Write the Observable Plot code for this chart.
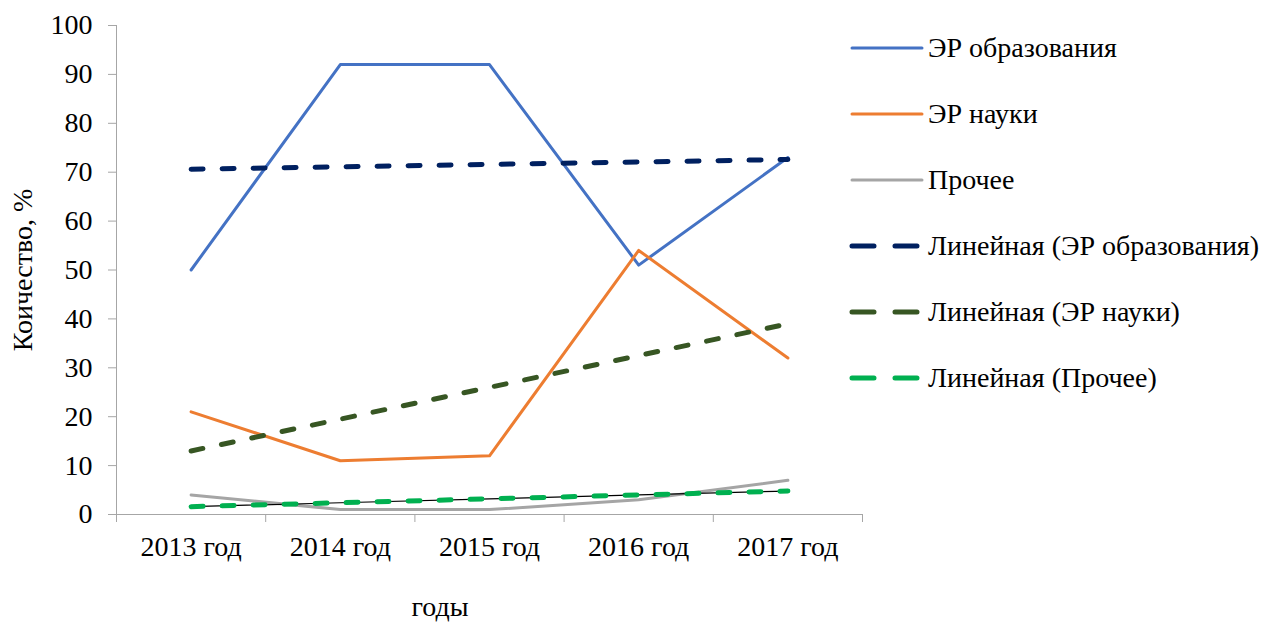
<!DOCTYPE html>
<html>
<head>
<meta charset="utf-8">
<script src="https://cdn.jsdelivr.net/npm/d3@7"></script>
<script src="https://cdn.jsdelivr.net/npm/@observablehq/plot@0.6"></script>
<style>
  #wrap, #wrap * { font-family: 'Liberation Serif', 'Times New Roman', Tinos !important; }
</style>
</head>
<body style="margin:0;padding:0;background:#fff">
<div id="wrap" style="position:relative;width:1270px;height:622px"></div>
<script>
const years = ["2013 год", "2014 год", "2015 год", "2016 год", "2017 год"];
const edu = [50, 92, 92, 51, 73];
const sci = [21, 11, 12, 54, 32];
const other = [4, 1, 1, 3, 7];
const yTicks = [0, 10, 20, 30, 40, 50, 60, 70, 80, 90, 100];

const seriesNames = ["ЭР образования", "ЭР науки", "Прочее"];
const lineColors = ["#4472C4", "#ED7D31", "#A5A5A5"];
const trendColors = ["#002060", "#375623", "#00B050"];

function fit(vals) {
  const xs = vals.map((_, i) => i);
  const mx = d3.mean(xs), my = d3.mean(vals);
  const b = d3.sum(xs, (x, i) => (x - mx) * (vals[i] - my)) / d3.sum(xs, x => (x - mx) ** 2);
  const a = my - b * mx;
  return xs.map(x => a + b * x);
}

const all = [edu, sci, other];
const rows = [];
const trends = [];
all.forEach((vals, s) => {
  const t = fit(vals);
  vals.forEach((v, i) => {
    rows.push({series: seriesNames[s], x: i + 0.5, y: v});
    trends.push({series: seriesNames[s], x: i + 0.5, y: t[i]});
  });
});

const FONT = "'Liberation Serif', 'Times New Roman', Tinos";
const plot = Plot.plot({
  width: 1270,
  height: 622,
  marginLeft: 116,
  marginRight: 408,
  marginTop: 25,
  marginBottom: 108,
  style: {fontFamily: FONT, fontSize: "28px", color: "#000", background: "#fff"},
  x: {type: "linear", domain: [0, years.length]},
  y: {domain: [0, 100]},
  marks: [
    Plot.ruleX([0], {y1: 0, y2: 100, stroke: "#a6a6a6"}),
    Plot.ruleY([0], {stroke: "#a6a6a6"}),
    Plot.axisY({ticks: yTicks, tickSize: 8, stroke: "#a6a6a6", fill: "#000", tickPadding: 16,
      label: "Коичество, %", labelAnchor: "center", labelArrow: "none", labelOffset: 104, fontSize: 28, fontFamily: FONT}),
    Plot.axisX({ticks: d3.range(0, years.length + 1), tickSize: 8, stroke: "#a6a6a6", tickFormat: () => "", label: null}),
    Plot.axisX({ticks: years.map((_, i) => i + 0.5), tickSize: 0, tickPadding: 22, fill: "#000",
      tickFormat: d => years[Math.round(d - 0.5)], label: null, fontSize: 28, fontFamily: FONT}),
    Plot.line(rows, {x: "x", y: "y", z: "series", stroke: d => lineColors[seriesNames.indexOf(d.series)], strokeWidth: 3}),
    Plot.line(trends.filter(d => d.series === "Прочее"), {x: "x", y: "y", stroke: "#000", strokeWidth: 1.2}),
    Plot.line(trends, {x: "x", y: "y", z: "series", stroke: d => trendColors[seriesNames.indexOf(d.series)],
      strokeWidth: 5, strokeDasharray: "12,19", strokeLinecap: "round"})
  ]
});
const wrap = document.getElementById("wrap");
wrap.appendChild(plot);

const legend = document.createElement("div");
legend.style.cssText = "position:absolute;left:848px;top:15px";
const items = [
  ...seriesNames.map((n, i) => ({label: n, color: lineColors[i], dash: null, w: 3})),
  ...seriesNames.map((n, i) => ({label: `Линейная (${n})`, color: trendColors[i], dash: "22,21", w: 5}))
];
for (const it of items) {
  const r = document.createElement("div");
  r.style.cssText = "display:flex;align-items:center;height:66px;font-size:28px;color:#000";
  r.innerHTML = `<svg width="78" height="12" style="margin-right:2px"><line x1="4" y1="6" x2="74" y2="6" stroke="${it.color}" stroke-width="${it.w}" stroke-linecap="round" ${it.dash ? `stroke-dasharray="${it.dash}"` : ""}/></svg><span>${it.label}</span>`;
  legend.appendChild(r);
}
wrap.appendChild(legend);

const xl = document.createElement("div");
xl.style.cssText = "position:absolute;left:440px;top:607px;transform:translate(-50%,-50%);font-size:28px";
xl.textContent = "годы";
wrap.appendChild(xl);

wrap.querySelectorAll("*").forEach(el => el.style.setProperty("font-family", FONT, "important"));
wrap.style.setProperty("font-family", FONT, "important");
</script>
</body>
</html>
